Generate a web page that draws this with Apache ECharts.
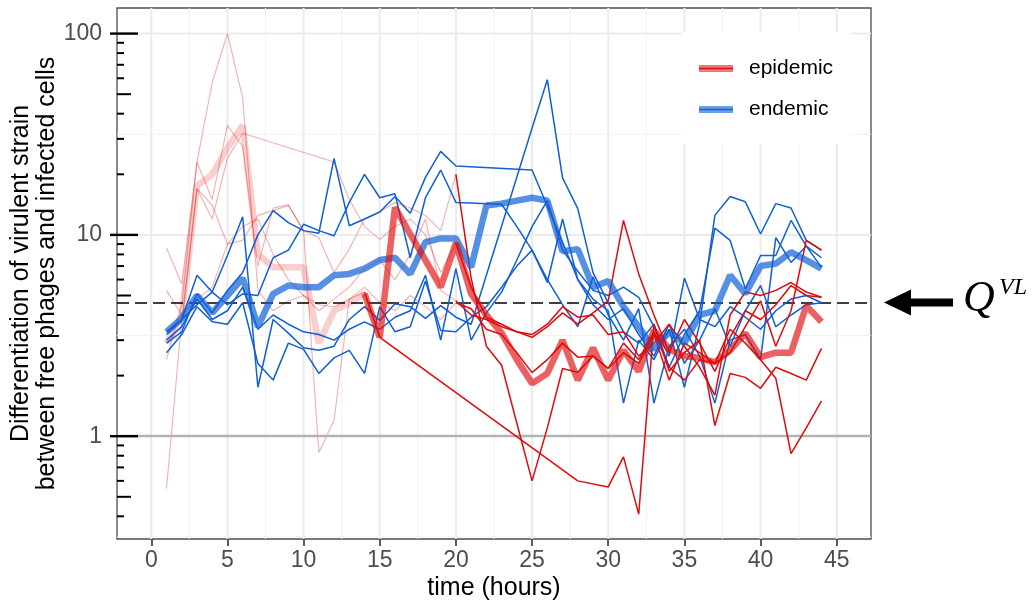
<!DOCTYPE html>
<html><head><meta charset="utf-8">
<script src="https://cdn.jsdelivr.net/npm/echarts@6/dist/echarts.min.js"></script>
<style>html,body{margin:0;padding:0;background:#fff}#c{width:1035px;height:606px}</style>
</head><body><div id="c"></div>
<script>
// ---------------- data ----------------
const hours = [1,2,3,4,5,6,7,8,9,10,11,12,13,14,15,16,17,18,19,20,21,22,23,24,25,26,27,28,29,30,31,32,33,34,35,36,37,38,39,40,41,42,43,44];

const endemicMean = [3.3,3.85,5.0,4.1,5.0,6.1,3.5,5.1,5.6,5.5, 5.5,6.3,6.4,6.8,7.5,7.7,6.4,9.2,9.6,9.6, 6.9,14.0,14.3,14.8,15.3,14.8,8.3,8.5,5.5,5.9, 4.4,3.5,2.7,3.3,2.9,4.0,4.2,6.3,5.1,7.0, 7.2,8.2,7.5,6.8];
const epidemicMean = [2.9,4.0,17.5,20,27,35,8.0,6.9,6.9,6.9, 2.9,4.2,4.6,5.1,3.1,13.7,10.1,7.5,5.5,9.1, 5.1,4.0,3.25,2.4,1.83,2.05,3.0,1.9,2.75,1.9, 2.67,2.1,3.35,2.7,2.5,2.45,2.33,2.67,3.25,2.47, 2.6,2.6,4.45,3.7];
const epidemicMeanEmergence = 14;

const endemicRun1 = [3.3,3.8,6.3,5.2,7.9,12.3,1.75,3.8,3.25,2.75, 2.67,2.8,3.8,4.4,3.76,4.55,4.4,3.85,4.45,3.9, 3.6,null,null,null,34,59,19.2,13.5,6.5,4.6, 3.3,2.9,3.6,2.2,3.2,4.2,10.8,9.4,5.4,7.9, 7.9,11.8,8.8,6.9];
const endemicRun2 = [2.9,3.3,5.1,4.1,5.3,6.5,10,13.2,11.5,10.5, 10.2,24,11.1,12,13,15.5,12.8,19.3,26,22, null,null,null,null,21,null,9.2,6.0,4.8,4.2, 1.46,3.0,2.4,3.4,1.75,3.6,12.5,15.5,14.6,10.1, 14.3,13.6,9.4,8.4];
const endemicRun3 = [2.6,3.2,4.4,3.7,3.6,4.6,2.3,1.9,2.9,2.7, 2.05,2.45,2.67,2.05,4.4,3.3,3.5,5.9,3.35,3.3, 3.9,4.4,5.5,7.0,8.4,6.0,4.5,3.5,6.2,4.0, 3.0,4.3,1.46,2.8,3.4,2.5,1.46,3.0,3.2,2.4, 9.7,7.3,8.8,7.7];
const endemicRun4 = [3.2,3.8,4.5,5.2,4.5,5.1,5.0,7.7,8.4,11.3, 10.5,9.9,14.5,20,15.3,16,7.7,15.3,21,14.5, 14.4,14.3,14.2,11,8.4,5.8,12,6.0,4.5,3.8, 4.3,3.2,2.5,3.6,2.3,3.0,4.3,2.8,4.2,5.6, 3.5,4.0,4.5,4.6];
const endemicRun5 = [3.0,3.5,4.8,3.8,4.2,5.5,3.4,4.0,3.6,3.3, 3.2,3.0,3.4,3.7,3.4,3.9,4.2,6.3,3.0,6.8, 3.0,4.1,5.2,7.5,11,14.8,8.4,6.6,5.3,5.0, 5.5,4.9,3.5,2.5,6.1,3.8,3.5,4.4,3.9,3.4, 4.2,4.8,5.0,4.6];

const epidemicRun1 = [8.6,5.7,23,57,100,48,5.3,4.2,4.7,5.0, 4.5,4.4,4.8,5.2,3.1,null,null,null,null,null, null,null,null,null,null,null,null,0.6,null,0.56, 0.79,0.41,3.6,2.1,2.6,3.0,1.13,2.05,1.96,1.73, 2.2,2.05,1.9,2.73];
const epidemicRun2 = [2.4,4.5,23,15,35,27.5,7.0,13.6,14.1,10.5, 9.7,6.5,8.5,12,13,14.5,13.6,12.5,10.5,20, 6.1,2.8,2.25,1.16,0.6,1.1,2.17,2.08,2.5,2.17, 2.6,2.3,3.2,1.9,2.9,2.6,2.3,3.4,2.9,2.4, 1.94,0.82,1.1,1.5];
const epidemicRun3 = [2.9,3.5,17,12,24,32,null,null,null,null, null,23,15,11,9.5,11,12,10,6.5,9.1, 5.5,3.9,3.6,3.3,3.1,3.5,4.1,3.6,4.1,4.7, 11.8,6.4,4.0,2.6,3.8,2.9,2.1,3.1,4.2,3.8, 4.5,5.6,5.0,4.9];
const epidemicRun4 = [0.55,3.8,17,14,9,9.4,12.5,13.2,14,10.5, 0.83,1.2,4.8,5.5,4.6,4.2,5.0,4.4,3.8,4.6, 4.3,3.4,3.2,2.6,2.07,2.4,2.9,2.47,2.5,2.17, 2.9,2.4,3.3,2.2,1.9,2.4,2.3,2.6,3.5,4.7, 2.8,4.2,9.4,8.4];
const epidemicRun5 = [5.3,4.0,4.8,5.5,9,11,12,8,6,5, 4.2,4.8,5.5,6.8,7.5,6,8,12,5.3,4.7, 4.0,3.8,3.5,3.3,3.2,3.6,4.4,3.9,4.0,3.2, 3.3,2.5,2.9,3.6,2.8,2.2,1.6,4.0,5.2,5.0, 5.3,5.8,5.2,4.9];
const epidemicRuns = [epidemicRun1, epidemicRun2, epidemicRun3, epidemicRun4, epidemicRun5];
const epidemicRunEmergence = [14, 20, 20, 20, 20];
const endemicRuns = [endemicRun1, endemicRun2, endemicRun3, endemicRun4, endemicRun5];

const qVL = 4.62;          // threshold Q^VL
const referenceLevel = 1;   // no differentiation
const xLabelTicks = [0,5,10,15,20,25,30,35,40,45];
const xMinorGrid = [2.5,7.5,12.5,17.5,22.5,27.5,32.5,37.5,42.5];
const yLabelTicks = [1,10,100];
const yMinorGrid = [0.3162,3.162,31.62];
const logTickMinor = [0.4,0.6,0.7,0.8,0.9,2,3,4,6,7,8,9,20,30,40,60,70,80,90];
const logTickMid = [0.5,5,50];

// ---------------- chart ----------------
const X_MIN = -2.25, X_MAX = 47.25, Y_MIN = 0.3086, Y_MAX = 134;
const FONT = '"Liberation Sans", Arial, sans-serif';
const RED = '#E00A0A', BLUE = '#0F5FD7';

function pairs(arr, keep) {
  return hours.map((h, i) => [h, (arr[i] == null || (keep && !keep(h))) ? null : arr[i]]);
}
function lineSeries(name, data, color, width, opacity, z) {
  return { name, type: 'line', data, showSymbol: false, symbol: 'none', connectNulls: true,
    silent: true, animation: false, z: z,
    lineStyle: { color, width, opacity }, itemStyle: { color } };
}
function vGrid(width, color) {
  return function (params, api) {
    const v = api.value(0);
    const a = api.coord([v, Y_MIN]), b = api.coord([v, Y_MAX]);
    return { type: 'line', shape: { x1: a[0], y1: a[1], x2: b[0], y2: b[1] }, style: { stroke: color, lineWidth: width } };
  };
}
function hGrid(width, color) {
  return function (params, api) {
    const v = api.value(1);
    const a = api.coord([X_MIN, v]), b = api.coord([X_MAX, v]);
    return { type: 'line', shape: { x1: a[0], y1: a[1], x2: b[0], y2: b[1] }, style: { stroke: color, lineWidth: width } };
  };
}
function yTicks(inner, outer, width) {
  return function (params, api) {
    const p = api.coord([X_MIN, api.value(1)]);
    return { type: 'line', shape: { x1: p[0] - outer, y1: p[1], x2: p[0] + inner, y2: p[1] }, style: { stroke: '#000', lineWidth: width } };
  };
}
function custom(name, data, renderItem, z) {
  return { name, type: 'custom', data, renderItem, silent: true, animation: false, z, clip: false };
}

const series = [];
series.push(custom('gx1', xLabelTicks.map(v => [v, 1]), vGrid(2, '#EBEBEB'), 0));
series.push(custom('gx2', xMinorGrid.map(v => [v, 1]), vGrid(1, '#F2F2F2'), 0));
series.push(custom('gy1', yLabelTicks.filter(v => v !== 1).map(v => [0, v]), hGrid(2, '#EBEBEB'), 0));
series.push(custom('gy2', yMinorGrid.map(v => [0, v]), hGrid(1, '#F2F2F2'), 0));

// faded (pre-emergence) epidemic runs
epidemicRuns.forEach((r, k) => series.push(lineSeries('epiPre' + k, pairs(r, h => h <= epidemicRunEmergence[k]), RED, 1.1, 0.33, 3)));
series.push(lineSeries('epiMeanPre', pairs(epidemicMean, h => h <= epidemicMeanEmergence), RED, 6.5, 0.2, 4));
endemicRuns.forEach((r, k) => series.push(lineSeries('endRun' + k, pairs(r), BLUE, 1.5, 1, 5)));
epidemicRuns.forEach((r, k) => series.push(lineSeries('epiRun' + k, pairs(r, h => h >= epidemicRunEmergence[k]), RED, 1.5, 1, 5)));
const endemicMeanSeries = lineSeries('endemic', pairs(endemicMean), BLUE, 6.5, 0.7, 6);
endemicMeanSeries.markLine = { silent: true, symbol: 'none', animation: false, label: { show: false },
  data: [
    { yAxis: referenceLevel, lineStyle: { color: '#B3B3B3', width: 2.4, type: 'solid', opacity: 1 } },
    { yAxis: qVL, lineStyle: { color: '#000', width: 1.6, type: [12, 6], opacity: 1 } }
  ] };
series.push(endemicMeanSeries);
series.push(lineSeries('epidemic', pairs(epidemicMean, h => h >= epidemicMeanEmergence), RED, 6.5, 0.65, 7));

// log ticks on the left axis
series.push(custom('tk1', yLabelTicks.map(v => [X_MIN, v]), yTicks(21, 7, 2.4), 8));
series.push(custom('tk2', logTickMid.map(v => [X_MIN, v]), yTicks(14, 0, 2), 8));
series.push(custom('tk3', logTickMinor.map(v => [X_MIN, v]), yTicks(7, 0, 2), 8));

const legendBase = {
  orient: 'vertical', left: 681, top: 32, itemGap: 20, itemWidth: 34, icon: 'rect', selectedMode: false
};
const chart = echarts.init(document.getElementById('c'), null, { renderer: 'canvas' });
chart.setOption({
  animation: false,
  backgroundColor: '#fff',
  textStyle: { fontFamily: FONT },
  grid: { left: 117, right: 164, top: 8, bottom: 67, show: true, containLabel: false, outerBoundsMode: 'none',
    borderColor: '#4D4D4D', borderWidth: 1.3, backgroundColor: 'transparent' },
  legend: [
    Object.assign({}, legendBase, {
      data: [ { name: 'epidemic', itemStyle: { color: '#EA7A7A' } }, { name: 'endemic', itemStyle: { color: '#6A9FE8' } } ],
      backgroundColor: '#fff', padding: [26, 18, 24, 18], itemHeight: 7, z: 10,
      textStyle: { fontSize: 21, color: '#000', fontFamily: FONT, padding: [0, 0, 0, 11] }
    }),
    Object.assign({}, legendBase, {
      data: [ { name: 'epidemic', itemStyle: { color: RED } }, { name: 'endemic', itemStyle: { color: BLUE } } ],
      backgroundColor: 'transparent', padding: [26, 18, 24, 18], itemHeight: 1.6, z: 11,
      textStyle: { fontSize: 21, color: 'rgba(0,0,0,0)', fontFamily: FONT, padding: [0, 0, 0, 11] }
    })
  ],
  xAxis: {
    type: 'value', min: X_MIN, max: X_MAX,
    name: 'time (hours)', nameLocation: 'middle', nameGap: 37, nameMoveOverlap: false,
    nameTextStyle: { fontSize: 25, color: '#000', fontFamily: FONT },
    axisLine: { show: false },
    axisTick: { show: true, length: 7, lineStyle: { color: '#333', width: 1.6 }, customValues: xLabelTicks },
    axisLabel: { customValues: xLabelTicks, fontSize: 23, color: '#4D4D4D', margin: 10, fontFamily: FONT },
    splitLine: { show: false }
  },
  yAxis: {
    type: 'log', logBase: 10, min: Y_MIN, max: Y_MAX,
    name: 'Differentiation of virulent strain\nbetween free phages and infected cells',
    nameLocation: 'middle', nameGap: 57, nameRotate: 90, nameMoveOverlap: false,
    nameTextStyle: { fontSize: 25, color: '#000', fontFamily: FONT, lineHeight: 26 },
    axisLine: { show: false }, axisTick: { show: false },
    axisLabel: { customValues: yLabelTicks, fontSize: 23, color: '#4D4D4D', margin: 15, fontFamily: FONT,
      formatter: v => String(Math.round(v)) },
    splitLine: { show: false }
  },
  series
});

// Q^VL annotation on the right
const yq = chart.convertToPixel({ xAxisIndex: 0, yAxisIndex: 0 }, [0, qVL])[1];
chart.setOption({
  graphic: [
    { type: 'polygon', shape: { points: [[884, yq], [911, yq - 13], [911, yq + 13]] }, style: { fill: '#000' } },
    { type: 'rect', shape: { x: 906, y: yq - 4, width: 47, height: 8 }, style: { fill: '#000' } },
    { type: 'text', left: 963, top: yq - 25, style: { text: 'Q', font: 'italic 44px "Liberation Serif", serif', fill: '#000' } },
    { type: 'text', left: 999, top: yq - 27, style: { text: 'VL', font: 'italic 24px "Liberation Serif", serif', fill: '#000' } }
  ]
});
</script>
</body></html>
